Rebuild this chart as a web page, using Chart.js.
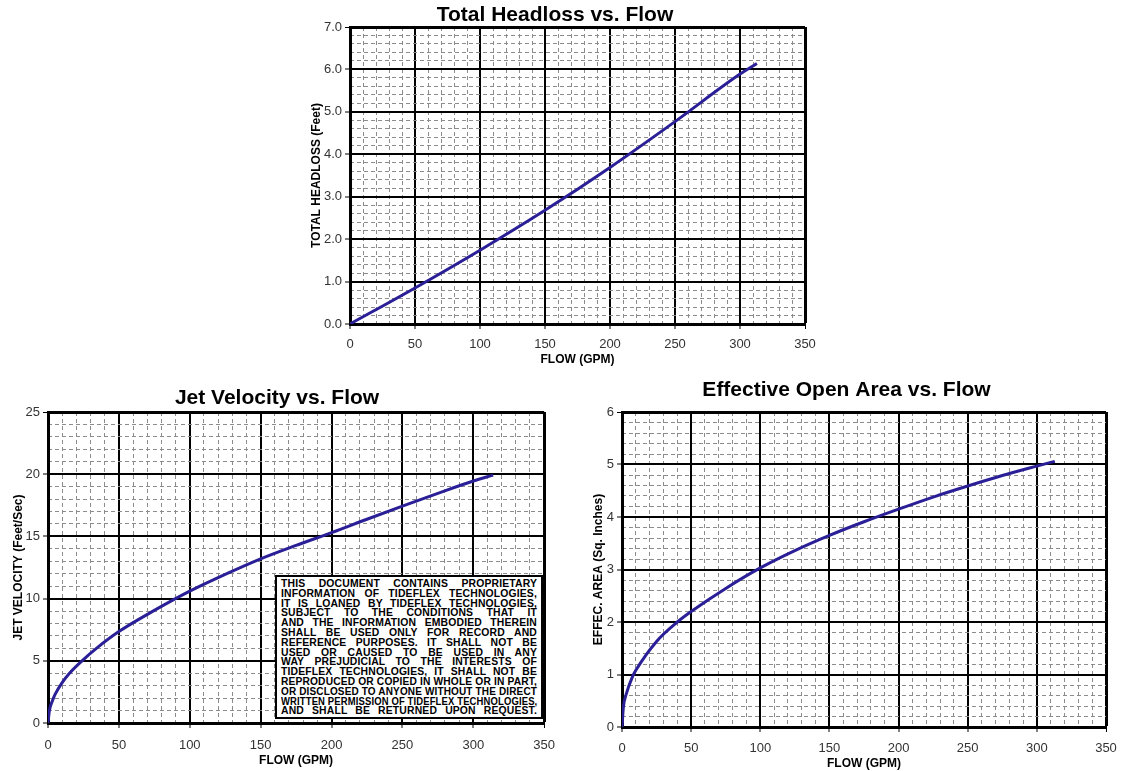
<!DOCTYPE html>
<html>
<head>
<meta charset="utf-8">
<script src="https://cdn.jsdelivr.net/npm/chart.js@4.4.0/dist/chart.umd.min.js"></script>
<style>
  body { margin: 0; background: #fff; width: 1126px; height: 771px; position: relative; overflow: hidden; }
  canvas { position: absolute; }
  #notice {
    position: absolute; left: 275px; top: 575px; width: 268px; height: 144px;
    box-sizing: border-box; border: 2px solid #000; background: #fff;
    padding: 2px 4px 0 4px; overflow: hidden;
    font: bold 10.4px "Liberation Sans", Arial, sans-serif;
    letter-spacing: 0.15px;
    line-height: 9.8px; color: #000;
  }
  #notice div { white-space: nowrap; text-align: justify; text-align-last: justify; }
</style>
</head>
<body>
<canvas id="c1" width="540" height="370" style="left:290px;top:0px"></canvas>
<canvas id="c2" width="565" height="391" style="left:0px;top:378px"></canvas>
<canvas id="c3" width="556" height="396" style="left:570px;top:375px"></canvas>
<div id="notice"></div>
<script>
// Total headloss vs flow
var flowHead = [0, 50, 100, 150, 200, 250, 300, 313];
var headloss = [0, 0.85, 1.74, 2.68, 3.69, 4.77, 5.89, 6.14];

// Jet velocity vs flow
var flowJet = [0, 1, 3, 5, 10, 15, 24, 35, 50, 75, 100, 125, 150, 175, 200, 225, 250, 275, 300, 314];
var jetVelocity = [0, 1.0, 1.75, 2.3, 3.25, 3.98, 5.0, 6.08, 7.35, 9.05, 10.6, 11.95, 13.2, 14.28, 15.3, 16.38, 17.44, 18.46, 19.45, 19.93];

// Effective open area vs flow
var flowArea = [0, 1, 3, 7.6, 10, 25, 40, 50, 75, 100, 125, 150, 175, 200, 225, 250, 275, 300, 313];
var openArea = [0, 0.38, 0.62, 0.96, 1.08, 1.63, 2.0, 2.2, 2.64, 3.03, 3.36, 3.65, 3.91, 4.15, 4.38, 4.59, 4.79, 4.97, 5.06];

var noticeLines = [
  "THIS DOCUMENT CONTAINS PROPRIETARY",
  "INFORMATION OF TIDEFLEX TECHNOLOGIES,",
  "IT IS LOANED BY TIDEFLEX TECHNOLOGIES,",
  "SUBJECT TO THE CONDITIONS THAT IT",
  "AND THE INFORMATION EMBODIED THEREIN",
  "SHALL BE USED ONLY FOR RECORD AND",
  "REFERENCE PURPOSES.  IT SHALL NOT BE",
  "USED OR CAUSED TO BE USED IN ANY",
  "WAY PREJUDICIAL TO THE INTERESTS OF",
  "TIDEFLEX TECHNOLOGIES, IT SHALL NOT BE",
  "REPRODUCED OR COPIED IN WHOLE OR IN PART,",
  "OR DISCLOSED TO ANYONE WITHOUT THE DIRECT",
  "WRITTEN PERMISSION OF TIDEFLEX TECHNOLOGIES,",
  "AND SHALL BE RETURNED UPON REQUEST."
];

Chart.defaults.font.family = '"Liberation Sans", Arial, sans-serif';
var LINE = "#2a1f96";
var MINOR = "#8c8c8c";

function isStep(v, step) {
  var r = v / step;
  return Math.abs(r - Math.round(r)) < 1e-6;
}

function gridChart(id, o) {
  var pts = o.xs.map(function (x, i) { return { x: x, y: o.ys[i] }; });
  return new Chart(document.getElementById(id), {
    type: "line",
    data: {
      datasets: [{
        data: pts,
        borderColor: LINE,
        borderWidth: 3,
        pointRadius: 0,
        fill: false,
        cubicInterpolationMode: "monotone"
      }]
    },
    options: {
      responsive: false,
      animation: false,
      layout: { padding: o.pad },
      plugins: {
        legend: { display: false },
        tooltip: { enabled: false },
        title: {
          display: true,
          text: o.title,
          color: "#000",
          font: { size: 21, weight: "bold", lineHeight: 1 },
          padding: o.titlePad
        }
      },
      scales: {
        x: {
          type: "linear", position: "bottom", min: 0, max: 350,
          afterFit: function (s) { s.height = o.xHeight; },
          ticks: { stepSize: 50, color: "#333", font: { size: 13 }, padding: o.xTickPad },
          grid: {
            color: "#000",
            lineWidth: function (c) { return c.tick && c.tick.value === 350 ? 3 : 2; },
            tickLength: 5, tickColor: "#000", tickWidth: 1
          },
          border: { display: true, color: "#000", width: 3 },
          title: { display: true, text: "FLOW (GPM)", color: "#000", font: { size: 12, weight: "bold" }, padding: { top: 0, bottom: o.xTitlePad } }
        },
        xm: {
          type: "linear", position: "bottom", min: 0, max: 350,
          afterFit: function (s) { s.height = 0; },
          ticks: { display: false, stepSize: 10 },
          grid: {
            drawTicks: false, lineWidth: 1,
            color: function (c) { return c.tick && isStep(c.tick.value, 50) ? "rgba(0,0,0,0)" : MINOR; }
          },
          border: { display: false, dash: [4, 3] }
        },
        y: {
          type: "linear", position: "left", min: 0, max: o.yMax,
          afterFit: function (s) { s.width = o.yWidth; },
          ticks: {
            stepSize: o.yStep, color: "#333", font: { size: 13 }, padding: 3,
            callback: function (v) { return v.toFixed(o.dec); }
          },
          grid: {
            color: "#000",
            lineWidth: function (c) { return c.tick && c.tick.value === o.yMax ? 3 : 2; },
            tickLength: 5, tickColor: "#000", tickWidth: 1
          },
          border: { display: true, color: "#000", width: 3 },
          title: { display: true, text: o.yTitle, color: "#000", font: { size: 12, weight: "bold" }, padding: { top: 4, bottom: 0 } }
        },
        ym: {
          type: "linear", position: "left", min: 0, max: o.yMax,
          afterFit: function (s) { s.width = 0; },
          ticks: { display: false, stepSize: o.yMinor },
          grid: {
            drawTicks: false, lineWidth: 1,
            color: function (c) { return c.tick && isStep(c.tick.value, o.yStep) ? "rgba(0,0,0,0)" : MINOR; }
          },
          border: { display: false, dash: [4, 3] }
        }
      }
    }
  });
}

gridChart("c1", {
  title: "Total Headloss vs. Flow", yTitle: "TOTAL HEADLOSS (Feet)",
  xs: flowHead, ys: headloss, yMax: 7, yStep: 1, yMinor: 0.2, dec: 1,
  yWidth: 45, pad: { left: 15, right: 25, top: 0, bottom: 1 },
  titlePad: { top: 5, bottom: 1 }, xHeight: 45, xTickPad: 8, xTitlePad: 2
});

gridChart("c2", {
  title: "Jet Velocity vs. Flow", yTitle: "JET VELOCITY (Feet/Sec)",
  xs: flowJet, ys: jetVelocity, yMax: 25, yStep: 5, yMinor: 1, dec: 0,
  yWidth: 41, pad: { left: 7, right: 18, top: 0, bottom: 1 },
  titlePad: { top: 10, bottom: 3 }, xHeight: 45, xTickPad: 10, xTitlePad: 0
});

gridChart("c3", {
  title: "Effective Open Area vs. Flow", yTitle: "EFFEC. AREA (Sq. Inches)",
  xs: flowArea, ys: openArea, yMax: 6, yStep: 1, yMinor: 0.2, dec: 0,
  yWidth: 35, pad: { left: 17, right: 20, top: 0, bottom: 0 },
  titlePad: { top: 5, bottom: 11 }, xHeight: 44, xTickPad: 9, xTitlePad: 0
});

var notice = document.getElementById("notice");
noticeLines.forEach(function (t) {
  var d = document.createElement("div");
  d.textContent = t;
  notice.appendChild(d);
});
Array.prototype.forEach.call(notice.children, function (d) {
  if (d.scrollWidth > d.clientWidth) {
    d.style.transformOrigin = "left center";
    d.style.transform = "scaleX(" + (d.clientWidth / d.scrollWidth) + ")";
    d.style.width = d.scrollWidth + "px";
  }
});
</script>
</body>
</html>
